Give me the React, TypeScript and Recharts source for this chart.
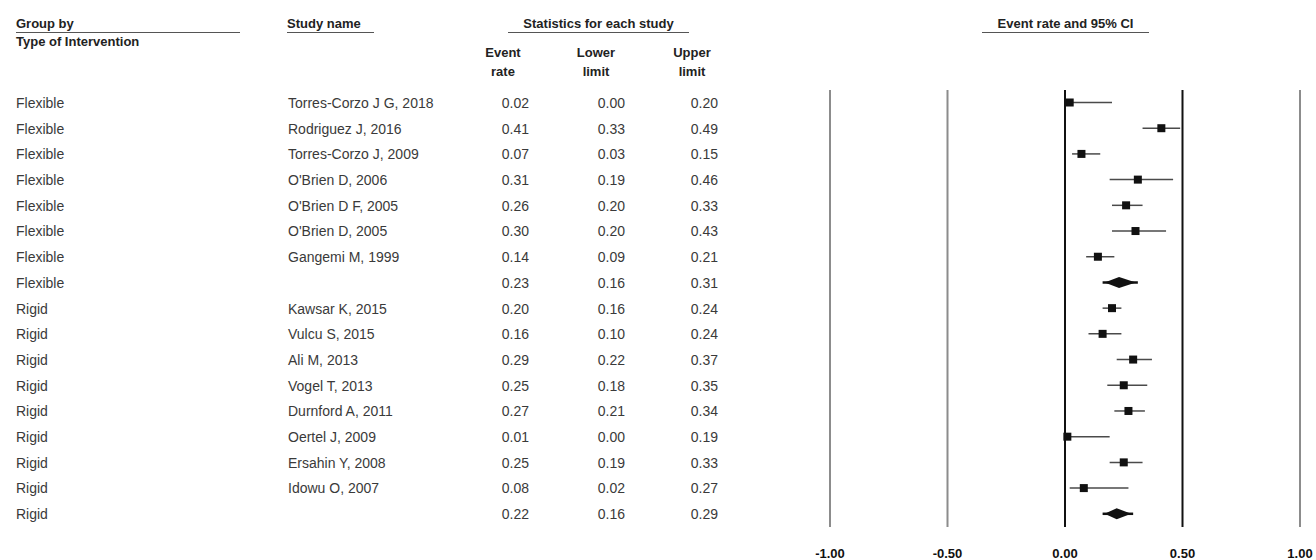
import { ComposedChart, Bar, XAxis, YAxis, ReferenceLine } from "recharts";

const groups = [
  "Flexible", "Flexible", "Flexible", "Flexible", "Flexible", "Flexible", "Flexible", "Flexible",
  "Rigid", "Rigid", "Rigid", "Rigid", "Rigid", "Rigid", "Rigid", "Rigid", "Rigid",
];
const studies = [
  "Torres-Corzo J G, 2018", "Rodriguez J, 2016", "Torres-Corzo J, 2009", "O'Brien D, 2006",
  "O'Brien D F, 2005", "O'Brien D, 2005", "Gangemi M, 1999", "",
  "Kawsar K, 2015", "Vulcu S, 2015", "Ali M, 2013", "Vogel T, 2013", "Durnford A, 2011",
  "Oertel J, 2009", "Ersahin Y, 2008", "Idowu O, 2007", "",
];
const eventRates = [0.02, 0.41, 0.07, 0.31, 0.26, 0.3, 0.14, 0.23, 0.2, 0.16, 0.29, 0.25, 0.27, 0.01, 0.25, 0.08, 0.22];
const lowerLimits = [0.0, 0.33, 0.03, 0.19, 0.2, 0.2, 0.09, 0.16, 0.16, 0.1, 0.22, 0.18, 0.21, 0.0, 0.19, 0.02, 0.16];
const upperLimits = [0.2, 0.49, 0.15, 0.46, 0.33, 0.43, 0.21, 0.31, 0.24, 0.24, 0.37, 0.35, 0.34, 0.19, 0.33, 0.27, 0.29];
const xTicks = [-1, -0.5, 0, 0.5, 1];

const rows = groups.map((g, i) => ({
  key: `r${i}`,
  group: g,
  study: studies[i],
  est: eventRates[i],
  lower: lowerLimits[i],
  upper: upperLimits[i],
  summary: studies[i] === "",
}));

const FONT = '"Liberation Sans", Arial, sans-serif';
const textColor = "#3a3a3a";

function RowTick(props: any) {
  const row = rows.find((r) => r.key === props.payload.value);
  if (!row) return null;
  const y = props.y;
  const common = { fontSize: 14, fill: textColor, fontFamily: FONT, dy: 5 };
  return (
    <g>
      <text x={16} y={y} {...common}>{row.group}</text>
      <text x={288} y={y} {...common}>{row.study}</text>
      <text x={529} y={y} textAnchor="end" {...common}>{row.est.toFixed(2)}</text>
      <text x={625} y={y} textAnchor="end" {...common}>{row.lower.toFixed(2)}</text>
      <text x={718} y={y} textAnchor="end" {...common}>{row.upper.toFixed(2)}</text>
    </g>
  );
}

function ForestMark(props: any) {
  const { x, y, width, height, payload } = props;
  const cy = y + height / 2;
  const span = payload.upper - payload.lower;
  const px = span > 0 ? x + (width * (payload.est - payload.lower)) / span : x;
  if (payload.summary) {
    return (
      <g>
        <line x1={x} x2={x + width} y1={cy} y2={cy} stroke="#111" strokeWidth={2.5} />
        <polygon
          points={`${x + 2},${cy} ${px},${cy - 5.5} ${x + width - 2},${cy} ${px},${cy + 5.5}`}
          fill="#111"
        />
      </g>
    );
  }
  return (
    <g>
      <line x1={x} x2={x + width} y1={cy} y2={cy} stroke="#4a4a4a" strokeWidth={1.5} />
      <rect x={px - 4} y={cy - 4} width={8} height={8} fill="#111" />
    </g>
  );
}

const headStyle: any = {
  position: "absolute",
  fontFamily: FONT,
  fontWeight: "bold",
  fontSize: 13,
  color: "#222",
  lineHeight: "16px",
  whiteSpace: "nowrap",
};

function Header({ left, top, width, children, center, underline, lh }: any) {
  return (
    <div
      style={{
        ...headStyle,
        left,
        top,
        width,
        lineHeight: lh || "16px",
        textAlign: center ? "center" : "left",
        borderBottom: underline ? "1.5px solid #555" : "none",
      }}
    >
      {children}
    </div>
  );
}

export default function App() {
  return (
    <div style={{ position: "absolute", left: 0, top: 0, width: 1316, height: 560, background: "#fff" }}>
      <Header left={16} top={16} width={224} underline>Group by</Header>
      <Header left={16} top={34}>Type of Intervention</Header>
      <Header left={287} top={16} width={87} underline>Study name</Header>
      <Header left={508} top={16} width={181} center underline>Statistics for each study</Header>
      <Header left={473} top={43} width={60} center lh="19px">Event<br />rate</Header>
      <Header left={566} top={43} width={60} center lh="19px">Lower<br />limit</Header>
      <Header left={662} top={43} width={60} center lh="19px">Upper<br />limit</Header>
      <Header left={982} top={16} width={167} center underline>Event rate and 95% CI</Header>
      <ComposedChart
        layout="vertical"
        width={1316}
        height={560}
        data={rows}
        margin={{ top: 90, right: 16, bottom: 0, left: 0 }}
        style={{ position: "absolute", left: 0, top: 0 }}
      >
        <XAxis
          type="number"
          domain={[-1, 1]}
          ticks={xTicks}
          height={33}
          axisLine={false}
          tickLine={false}
          tickMargin={16}
          tickFormatter={(v: number) => v.toFixed(2)}
          tick={{ fontSize: 13, fontWeight: "bold", fill: "#111", fontFamily: FONT }}
        />
        <YAxis
          type="category"
          dataKey="key"
          width={830}
          axisLine={false}
          tickLine={false}
          interval={0}
          tick={RowTick}
        />
        {xTicks.map((t) => (
          <ReferenceLine
            key={t}
            x={t}
            stroke={t === 0 || t === 0.5 ? "#111" : "#8c8c8c"}
            strokeWidth={2}
          />
        ))}
        <Bar
          dataKey={(d: any) => [d.lower, d.upper]}
          barSize={11}
          shape={ForestMark}
          isAnimationActive={false}
        />
      </ComposedChart>
    </div>
  );
}
